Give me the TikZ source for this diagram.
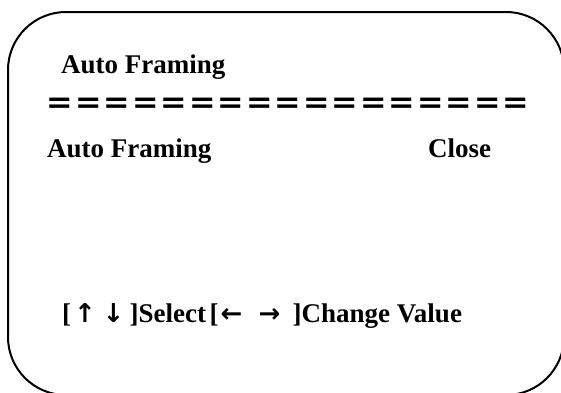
\documentclass[tikz,border=0pt]{standalone}
\usepackage{fontspec}
\setmainfont{Liberation Serif}
\newfontfamily\cjk{Noto Sans CJK SC}
\newfontfamily\arrowfont{DejaVu Sans}
\newcommand{\arr}[1]{{\arrowfont\fontsize{26}{28}\selectfont #1}}
\begin{document}
\begin{tikzpicture}[x=1pt,y=-1pt,
  txt/.style={inner sep=0pt,anchor=base west,font=\fontsize{27}{30}\selectfont\bfseries},
  frame/.style={line width=2pt,rounded corners=58pt}]
\useasboundingbox (0,0) rectangle (561,392);
\clip (0,0) rectangle (561,392);
\fill[white] (0,0) rectangle (561,392);
\draw[frame] (8,12) rectangle (564,395);
\node[txt] (title) at (61,73) {Auto Framing};
\node[inner sep=0pt,anchor=base west,font=\fontsize{28.5}{30}\selectfont\cjk\bfseries] (eq) at (45.6,114) {＝＝＝＝＝＝＝＝＝＝＝＝＝＝＝＝＝};
\node[txt] (item) at (47,157) {Auto Framing};
\node[txt] (value) at (428,157) {Close};
\node[txt] (help) at (62,322) {\makebox[12pt][l]{[}\makebox[28.5pt][l]{\arr{↑}}\makebox[27pt][l]{\arr{↓}}\makebox[80pt][l]{]Select}\makebox[11pt][l]{[}\makebox[38pt][l]{\arr{←}}\makebox[34pt][l]{\arr{→}}]Change Value};
\end{tikzpicture}
\end{document}
